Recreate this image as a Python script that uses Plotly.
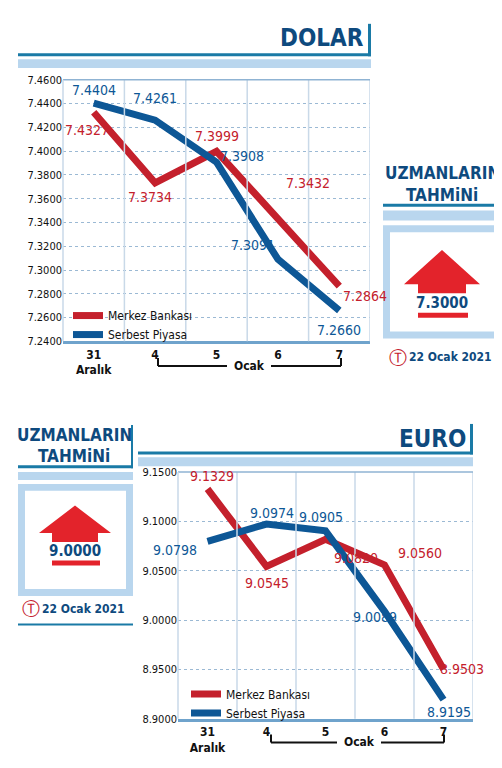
import plotly.graph_objects as go

cats = ["31<br>Aralık", "4", "5", "6", "7"]
usd_mb = [7.4327, 7.3734, 7.3999, 7.3432, 7.2864]
usd_sp = [7.4404, 7.4261, 7.3908, 7.3091, 7.2660]
eur_mb = [9.1329, 9.0545, 9.0820, 9.0560, 8.9503]
eur_sp = [9.0798, 9.0974, 9.0905, 9.0089, 8.9195]
usd_ticks = [7.24, 7.26, 7.28, 7.30, 7.32, 7.34, 7.36, 7.38, 7.40, 7.42, 7.44, 7.46]
eur_ticks = [8.90, 8.95, 9.00, 9.05, 9.10, 9.15]
usd_forecast = "7.3000"
eur_forecast = "9.0000"
forecast_date = "22 Ocak 2021"

RED = "#c4202c"
BLUE = "#0d5796"
TEAL = "#1a7aa6"
LIGHT = "#b9d6ee"
NAVY = "#0e4a7e"
FONT = "DejaVu Sans Condensed, sans-serif"
W, H = 502, 768
X = list(range(5))

def px(x): return x / W
def py(y): return 1 - y / H

fig = go.Figure()
for xa, ya, mb, sp, leg in [("x", "y", usd_mb, usd_sp, "legend"), ("x2", "y2", eur_mb, eur_sp, "legend2")]:
    fig.add_trace(go.Scatter(x=X, y=mb, mode="lines", name="Merkez Bankası", xaxis=xa, yaxis=ya,
                             line=dict(color=RED, width=7), legend=leg))
    fig.add_trace(go.Scatter(x=X, y=sp, mode="lines", name="Serbest Piyasa", xaxis=xa, yaxis=ya,
                             line=dict(color=BLUE, width=7), legend=leg))

ax = dict(range=[-0.5, 4.5], tickvals=X, ticktext=["<b>" + c + "</b>" for c in cats], showgrid=False, zeroline=False,
          showline=True, linecolor="#6fa3cc", linewidth=3, mirror=False, ticks="",
          tickfont=dict(family=FONT, size=12, color="#111"))
ay = dict(showgrid=True, gridcolor="#9bb9d4", griddash="dot", zeroline=False, tickformat=".4f",
          tickfont=dict(family=FONT, size=11, color="#111"), ticks="")
fig.update_layout(
    width=W, height=H, margin=dict(l=0, r=0, t=0, b=0),
    paper_bgcolor="white", plot_bgcolor="white", showlegend=True,
    xaxis=dict(ax, domain=[px(55), px(362)], anchor="y"),
    yaxis=dict(ay, domain=[py(333), py(67)], range=[7.24, 7.46], tickvals=usd_ticks, anchor="x"),
    xaxis2=dict(ax, domain=[px(170), px(465)], anchor="y2"),
    yaxis2=dict(ay, domain=[py(717), py(466)], range=[8.90, 9.15], tickvals=eur_ticks, anchor="x2"),
    legend=dict(x=px(60), y=py(292), xanchor="left", yanchor="top", bgcolor="rgba(0,0,0,0)",
                font=dict(family=FONT, size=12, color="#111"), tracegroupgap=0, itemwidth=30),
    legend2=dict(x=px(178), y=py(677), xanchor="left", yanchor="top", bgcolor="rgba(0,0,0,0)",
                 font=dict(family=FONT, size=12, color="#111"), tracegroupgap=0, itemwidth=30),
)

shapes = []
for xr, yr in [("x", "y"), ("x2", "y2")]:
    for v in [0.5, 1.5, 2.5, 3.5, 4.5]:
        shapes.append(dict(type="line", xref=xr, yref=yr + " domain", x0=v, x1=v, y0=0, y1=1,
                           line=dict(color="#c9d9e8", width=1.5)))
    shapes.append(dict(type="line", xref=xr + " domain", yref=yr + " domain", x0=0, x1=1, y0=1, y1=1,
                       line=dict(color="#8fb3d3", width=1.5)))
    shapes.append(dict(type="line", xref=xr + " domain", yref=yr + " domain", x0=0, x1=0, y0=0, y1=1,
                       line=dict(color="#c9d9e8", width=1.5)))

def rect(x0, y0, x1, y1, color):
    shapes.append(dict(type="rect", xref="paper", yref="paper", x0=px(x0), x1=px(x1), y0=py(y1), y1=py(y0),
                       fillcolor=color, line=dict(width=0), layer="below"))

def hline(x0, x1, y, color="#111", w=2):
    shapes.append(dict(type="line", xref="paper", yref="paper", x0=px(x0), x1=px(x1), y0=py(y), y1=py(y),
                       line=dict(color=color, width=w)))

def vline(x, y0, y1, color="#111", w=2):
    shapes.append(dict(type="line", xref="paper", yref="paper", x0=px(x), x1=px(x), y0=py(y0), y1=py(y1),
                       line=dict(color=color, width=w)))

rect(10, 40, 363, 43, TEAL); rect(10, 46, 363, 55, LIGHT); rect(360, 10, 363, 43, TEAL)
rect(130, 445, 465, 448, TEAL); rect(130, 451, 465, 460, LIGHT); rect(462, 417, 465, 448, TEAL)
rect(375, 193, 495, 196, TEAL); rect(375, 200, 495, 210, LIGHT); rect(493, 150, 495, 196, TEAL)
rect(375, 215, 495, 330, LIGHT); rect(382, 222, 488, 323, "white")
rect(10, 459, 125, 462, TEAL); rect(10, 466, 125, 474, LIGHT); rect(123, 418, 125, 462, TEAL)
rect(10, 478, 125, 592, LIGHT); rect(17, 485, 118, 585, "white")
rect(10, 620, 125, 622, TEAL)

def arrow(cx, top, base, bottom, hw, sw):
    path = (f"M {px(cx)},{py(top)} L {px(cx+hw)},{py(base)} L {px(cx+sw)},{py(base)} L {px(cx+sw)},{py(bottom)} "
            f"L {px(cx-sw)},{py(bottom)} L {px(cx-sw)},{py(base)} L {px(cx-hw)},{py(base)} Z")
    shapes.append(dict(type="path", xref="paper", yref="paper", path=path, fillcolor="#e3232b", line=dict(width=0)))

arrow(434, 240, 275, 284, 38, 24)
rect(410, 304, 460, 309, "#e3232b")
arrow(67, 500, 528, 537, 36, 23)
rect(44, 556, 92, 561, "#e3232b")

for x0, x1, xm, yb in [(150, 333, 241, 358), (263, 436, 351, 741)]:
    vline(x0, yb - 8, yb); vline(x1, yb - 8, yb)
    hline(x0, xm - 22, yb); hline(xm + 22, x1, yb)
fig.update_layout(shapes=shapes)

ann = []
def text(x, y, t, size, color, bold=True, anchor="center"):
    ann.append(dict(xref="paper", yref="paper", x=px(x), y=py(y), text=f"<b>{t}</b>" if bold else t,
                    showarrow=False, xanchor=anchor, yanchor="middle",
                    font=dict(family=FONT, size=size, color=color)))

text(358, 24, "DOLAR", 24, NAVY, anchor="right")
text(460, 432, "EURO", 24, NAVY, anchor="right")
for cx, y1, y2 in [(434, 162, 184), (66, 428, 450)]:
    text(cx, y1, "UZMANLARIN", 17, NAVY)
    text(cx, y2, "TAHMiNi", 17, NAVY)
text(434, 294, usd_forecast, 15, NAVY)
text(67, 546, eur_forecast, 15, NAVY)
for cx, y in [(442, 349), (75, 605)]:
    text(cx, y, forecast_date, 12, NAVY)
    text(cx - 52, y, "Ⓣ", 18, RED, bold=False)
text(241, 358, "Ocak", 12, "#111")
text(351, 741, "Ocak", 12, "#111")

usd_off = {"mb": [(-7, -18), (-5, -14), (0, 15), (30, 36), (26, -10)],
           "sp": [(0, 13), (0, 22), (25, 6), (-25, 14), (0, -20)]}
eur_off = {"mb": [(4, 13), (0, -17), (30, -19), (35, 12), (18, 0)],
           "sp": [(-33, -9), (5, 11), (-5, 14), (-10, -6), (5, -12)]}
for xr, yr, mb, sp, off in [("x", "y", usd_mb, usd_sp, usd_off), ("x2", "y2", eur_mb, eur_sp, eur_off)]:
    for vals, key, col in [(mb, "mb", RED), (sp, "sp", BLUE)]:
        for i, v in enumerate(vals):
            dx, dy = off[key][i]
            ann.append(dict(xref=xr, yref=yr, x=i, y=v, text=f"{v:.4f}", showarrow=False,
                            xshift=dx, yshift=dy, font=dict(family=FONT, size=14, color=col)))
fig.update_layout(annotations=ann)
fig.write_html("out.html")
